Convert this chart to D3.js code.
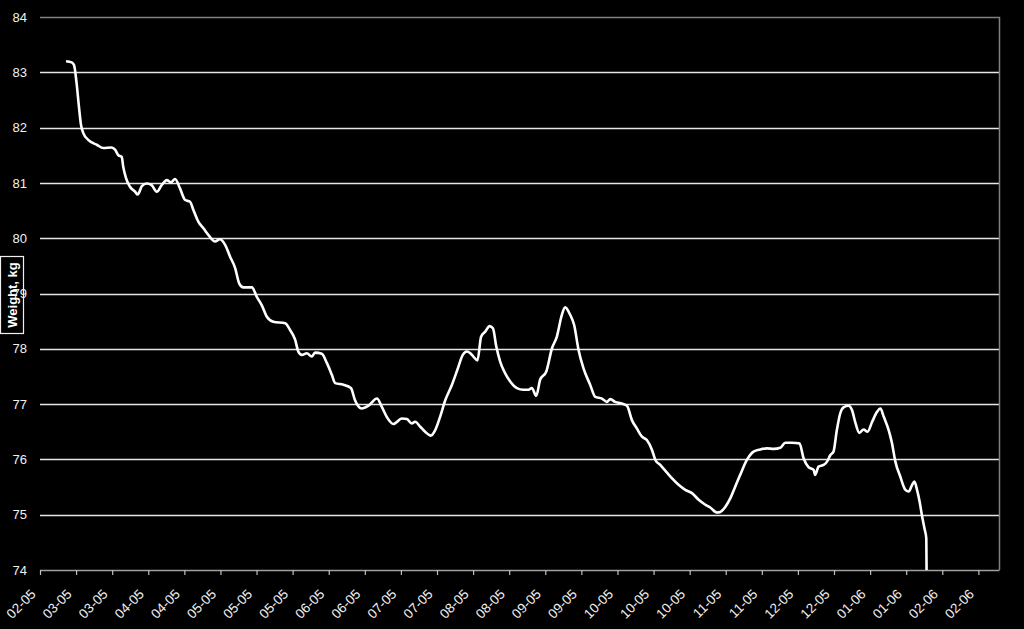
<!DOCTYPE html>
<html>
<head>
<meta charset="utf-8">
<script src="https://cdn.jsdelivr.net/npm/d3@7"></script>
<style>
  html, body { margin: 0; padding: 0; background: #000; }
  svg { display: block; }
  text { font-family: "Liberation Sans", Arial, sans-serif; }
</style>
</head>
<body>
<svg id="chart" width="1024" height="629"></svg>
<script>
// ---- data ----
const startDateISO = "2005-02-20";
const axisDays = 372;        // length of date axis in days
const tickStepDays = 14;
const xTickLabels = ["02-05","03-05","03-05","04-05","04-05","05-05","05-05","05-05","06-05","06-05",
  "07-05","07-05","08-05","08-05","09-05","09-05","10-05","10-05","10-05","11-05","11-05",
  "12-05","12-05","01-06","01-06","02-06","02-06"];
const yTicks = [74,75,76,77,78,79,80,81,82,83,84];
const yTitle = "Weight, kg";

// days after start date
const dayOffsets = [10.1,12.3,13.2,14.2,15.1,15.9,16.8,18.7,22,24.6,
  27.8,29.1,30.4,31.7,32.3,33.4,34.9,36.9,37.9,39.5,
  41.4,43.3,45.3,47.2,49.2,50.8,52.4,54.3,56.3,58.2,
  59.5,61.4,63.4,65.3,67.9,69.8,71.8,73.7,75.7,77.3,
  78.9,82.2,84.1,86.0,88.0,90.5,95.1,97.0,99.0,100.2,
  101.6,103.5,105.4,106.7,109.3,111.3,113.2,114.5,117.7,120.6,
  122.2,124.8,127.4,130.7,132.6,134.5,137.1,140.4,142.3,144.2,
  145.5,147.5,149.4,151.6,153.3,155.2,157.2,159.8,161.9,164.0,
  165.6,166.9,168.1,169.7,171.1,172.7,174.4,175.7,177.0,178.5,
  180.4,182.4,185.0,187.5,189.5,190.8,192.5,194.0,196.4,198.6,
  200.5,202.4,203.7,205.7,207.2,208.9,210.8,213.4,215.4,218.0,
  219.9,221.2,223.1,225.7,227.7,229.6,231.5,233.5,235.4,237.4,
  238.7,240.6,243.2,245.1,247.7,250.3,252.9,255.5,258.1,260.0,
  262.6,263.9,265.8,267.8,269.7,271.6,274.2,276.8,279.4,282.0,
  284.6,287.2,289.1,291.7,294.6,296.2,298.1,300.1,300.7,302.0,
  304.0,305.3,306.6,307.8,309.1,310.4,311.7,313.6,315.0,316.2,
  317.8,319.5,321.0,322.8,324.7,326.0,327.3,329.2,330.5,331.8,
  333.7,335.7,337.0,338.3,339.2,340.2,341.2,342.1,343.1,343.8,
  344.0];

const weights = [83.2,83.18,83.13,82.8,82.38,82.05,81.9,81.78,81.69,81.63,
  81.64,81.6,81.5,81.47,81.29,81.08,80.93,80.84,80.79,80.94,
  80.99,80.96,80.84,80.96,81.05,81.01,81.07,80.9,80.69,80.66,
  80.51,80.3,80.18,80.06,79.94,79.98,79.88,79.67,79.46,79.18,
  79.11,79.11,78.94,78.79,78.58,78.49,78.46,78.34,78.16,77.95,
  77.89,77.92,77.86,77.93,77.91,77.74,77.53,77.38,77.35,77.29,
  77.07,76.92,76.97,77.1,76.95,76.77,76.64,76.74,76.73,76.65,
  76.68,76.59,76.5,76.43,76.53,76.77,77.07,77.35,77.62,77.89,
  77.95,77.92,77.86,77.79,78.22,78.31,78.41,78.37,78.04,77.77,
  77.56,77.41,77.29,77.26,77.26,77.29,77.15,77.44,77.59,78.01,
  78.22,78.61,78.75,78.61,78.43,77.98,77.65,77.35,77.13,77.1,
  77.04,77.09,77.04,77.01,76.97,76.71,76.56,76.41,76.35,76.17,
  75.99,75.9,75.76,75.66,75.54,75.45,75.39,75.27,75.18,75.13,
  75.04,75.05,75.14,75.3,75.51,75.72,75.99,76.14,76.18,76.2,
  76.19,76.21,76.3,76.3,76.29,76.02,75.86,75.81,75.72,75.87,
  75.9,75.96,76.08,76.14,76.53,76.83,76.94,76.97,76.89,76.68,
  76.48,76.54,76.5,76.68,76.86,76.92,76.77,76.53,76.29,75.96,
  75.69,75.45,75.42,75.54,75.6,75.45,75.24,74.99,74.75,74.57,
  73.5];

// ---- chart ----
const svg = d3.select("#chart");
const W = 1024, H = 629;
const plot = { left: 40, right: 999, top: 17, bottom: 570 };

svg.append("rect").attr("width", W).attr("height", H).attr("fill", "#000");

const start = new Date(startDateISO + "T00:00:00Z");
const end = d3.utcDay.offset(start, axisDays);
const x = d3.scaleUtc().domain([start, end]).range([plot.left, plot.right]);
const y = d3.scaleLinear().domain([74, 84]).range([plot.bottom, plot.top]);

const data = dayOffsets.map((d, i) => ({
  date: new Date(start.getTime() + d * 86400000),
  value: weights[i]
}));

// y title box (drawn first so tick label overlaps it, as in reference)
const ty = svg.append("g").attr("transform", "translate(12,295)");
ty.append("rect")
  .attr("x", -11.5).attr("y", -38.5).attr("width", 23).attr("height", 77)
  .attr("fill", "#000").attr("stroke", "#f0f0f0").attr("stroke-width", 1.2);
ty.append("text")
  .attr("transform", "rotate(-90)")
  .attr("text-anchor", "middle")
  .attr("dy", "0.36em")
  .attr("fill", "#fff")
  .attr("font-size", 13)
  .attr("font-weight", "bold")
  .text(yTitle);

// gridlines
svg.append("g")
  .selectAll("line")
  .data(yTicks.filter(v => v > 74 && v < 84))
  .join("line")
  .attr("x1", plot.left).attr("x2", plot.right)
  .attr("y1", d => Math.round(y(d)) + 0.5).attr("y2", d => Math.round(y(d)) + 0.5)
  .attr("stroke", "#e6e6e6").attr("stroke-width", 1.3);

// plot border (top & right)
svg.append("path")
  .attr("d", `M${plot.left},${plot.top + 0.5}H${plot.right + 0.5}V${plot.bottom}`)
  .attr("fill", "none").attr("stroke", "#808080").attr("stroke-width", 1.5);

// y tick labels
svg.append("g")
  .selectAll("text")
  .data(yTicks)
  .join("text")
  .attr("x", 27).attr("y", d => y(d))
  .attr("dy", "0.36em")
  .attr("text-anchor", "end")
  .attr("fill", "#f0f0f0")
  .attr("font-size", 13)
  .text(d => d);

// x axis
const xTickValues = xTickLabels.map((_, i) => d3.utcDay.offset(start, i * tickStepDays));
const xAxis = d3.axisBottom(x)
  .tickValues(xTickValues)
  .tickSize(5)
  .tickFormat((d, i) => xTickLabels[i]);

const gx = svg.append("g")
  .attr("transform", `translate(0,${plot.bottom})`)
  .call(xAxis);
gx.select(".domain").attr("stroke", "#a0a0a0").attr("stroke-width", 1.5)
  .attr("d", `M${plot.left},0.5H${plot.right + 0.5}`);
gx.selectAll(".tick line").attr("stroke", "#c0c0c0").attr("stroke-width", 1.2);
gx.selectAll(".tick text")
  .attr("fill", "#f0f0f0")
  .attr("font-size", 13.5)
  .attr("font-family", "Liberation Sans, Arial, sans-serif")
  .attr("text-anchor", "end")
  .attr("y", 0).attr("dy", 0)
  .attr("transform", "translate(-4,25) rotate(-45)");

// line
svg.append("clipPath").attr("id", "clip")
  .append("rect")
  .attr("x", plot.left).attr("y", plot.top)
  .attr("width", plot.right - plot.left).attr("height", plot.bottom - plot.top);

const line = d3.line()
  .x(d => x(d.date))
  .y(d => y(d.value))
  .curve(d3.curveMonotoneX);

svg.append("path")
  .datum(data)
  .attr("clip-path", "url(#clip)")
  .attr("fill", "none")
  .attr("stroke", "#fff")
  .attr("stroke-width", 2.6)
  .attr("stroke-linejoin", "round")
  .attr("d", line);
</script>
</body>
</html>
